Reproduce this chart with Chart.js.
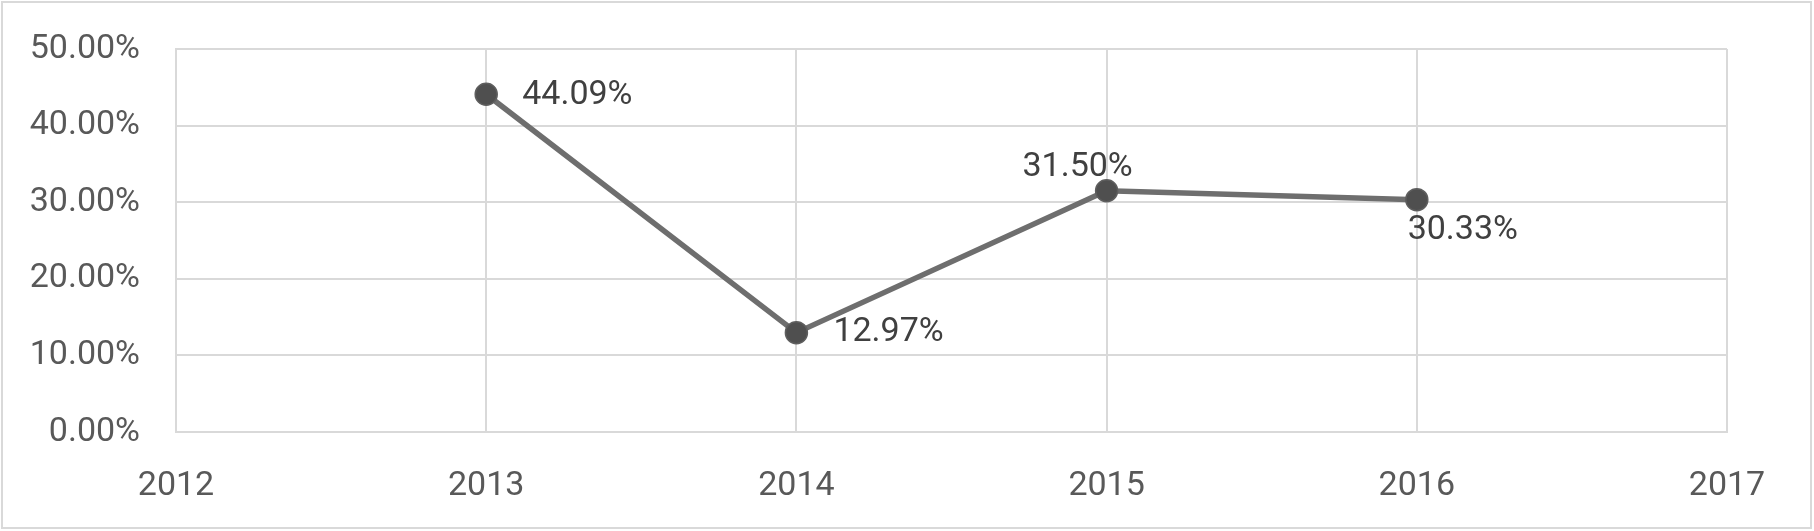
<!DOCTYPE HTML>
<html>

<head>
  <meta charset="utf-8" />
  <script src="https://cdn.jsdelivr.net/npm/chart.js@4"></script>
  <style>
    body {
      margin: 0;
      background: #fff;
    }

    .wrap {
      width: 1814px;
      height: 531px;
      position: relative;
    }
  </style>
</head>

<body>
  <div class="wrap"><canvas id="chart-rate"></canvas></div>
</body>
<script>
  // data
  var years = [2013, 2014, 2015, 2016];
  var rates = [44.09, 12.97, 31.50, 30.33];
  var rateLabels = ['44.09%', '12.97%', '31.50%', '30.33%'];

  // where each value label sits relative to its point: [dx, dy, align]
  var labelOffsets = [[36, 1, 'left'], [37, 0, 'left'], [-29, -23, 'center'], [46, 31, 'center']];

  var FONT = 'Roboto, "Open Sans", sans-serif';

  // outer frame like the spreadsheet chart box
  var framePlugin = {
    id: 'frame',
    beforeDraw: function (chart) {
      var ctx = chart.ctx;
      ctx.save();
      ctx.fillStyle = '#fff';
      ctx.fillRect(0, 0, chart.width, chart.height);
      ctx.strokeStyle = '#d9d9d9';
      ctx.lineWidth = 2;
      ctx.strokeRect(2, 2, chart.width - 5, chart.height - 5);
      ctx.restore();
    }
  };

  var valueLabels = {
    id: 'valueLabels',
    afterDatasetsDraw: function (chart) {
      var ctx = chart.ctx;
      var meta = chart.getDatasetMeta(0);
      ctx.save();
      ctx.font = '34px ' + FONT;
      ctx.fillStyle = '#404040';
      ctx.textBaseline = 'middle';
      meta.data.forEach(function (pt, i) {
        ctx.textAlign = labelOffsets[i][2];
        ctx.fillText(rateLabels[i], pt.x + labelOffsets[i][0], pt.y + labelOffsets[i][1]);
      });
      ctx.restore();
    }
  };

  var ctxRate = document.getElementById('chart-rate');
  var chartRate = new Chart(ctxRate, {
    type: 'line',
    data: {
      datasets: [{
        data: years.map(function (y, i) { return { x: y, y: rates[i] }; }),
        borderColor: '#6e6e6e',
        borderWidth: 5.5,
        pointRadius: 11,
        pointBackgroundColor: '#4f4f4f',
        pointBorderColor: '#5e5e5e',
        pointBorderWidth: 1.5,
        tension: 0,
        fill: false
      }]
    },
    plugins: [framePlugin, valueLabels],
    options: {
      responsive: true,
      maintainAspectRatio: false,
      animation: false,
      layout: {
        padding: { left: 0, right: 87, top: 49, bottom: 0 }
      },
      scales: {
        x: {
          type: 'linear',
          min: 2012,
          max: 2017,
          ticks: {
            stepSize: 1,
            padding: 34,
            color: '#595959',
            font: { family: FONT, size: 34 },
            callback: function (v) { return String(v); }
          },
          grid: { color: '#d9d9d9', lineWidth: 2, drawTicks: false },
          border: { color: '#d9d9d9', width: 2 },
          afterFit: function (scale) { scale.height = 99; }
        },
        y: {
          min: 0,
          max: 50,
          ticks: {
            stepSize: 10,
            padding: 36,
            color: '#595959',
            font: { family: FONT, size: 34 },
            callback: function (v) { return v.toFixed(2) + '%'; }
          },
          grid: { color: '#d9d9d9', lineWidth: 2, drawTicks: false },
          border: { color: '#d9d9d9', width: 2 },
          afterFit: function (scale) {
            scale.width = 176;
            scale.paddingTop = 0;
            scale.paddingBottom = 0;
          }
        }
      },
      plugins: {
        legend: { display: false },
        tooltip: { enabled: false },
        title: { display: false }
      }
    }
  });
</script>

</html>
